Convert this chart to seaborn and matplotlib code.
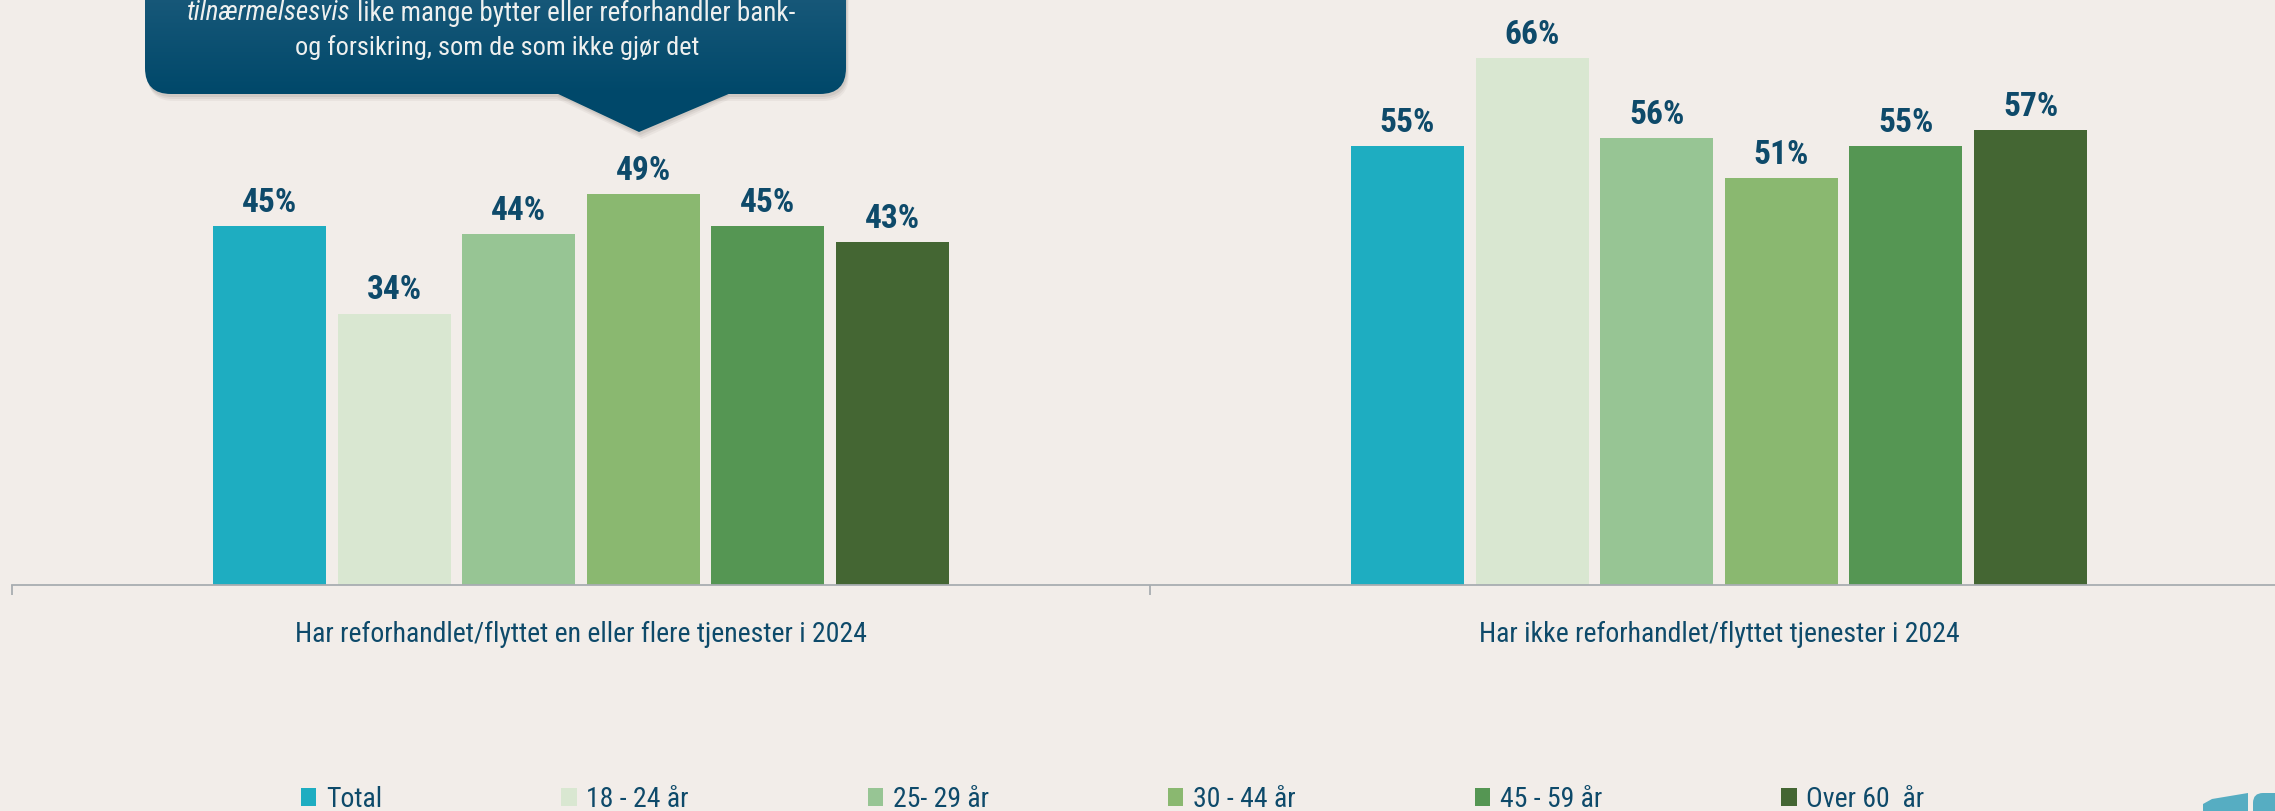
import numpy as np
import pandas as pd
import seaborn as sns
import matplotlib.pyplot as plt
from matplotlib import font_manager
from matplotlib.patches import FancyBboxPatch, Polygon
from matplotlib.colors import LinearSegmentedColormap

# data
categories = ["Har reforhandlet/flyttet en eller flere tjenester i 2024",
              "Har ikke reforhandlet/flyttet tjenester i 2024"]
groups = ["Total", "18 - 24 år", "25- 29 år", "30 - 44 år", "45 - 59 år", "Over 60  år"]
har_flyttet = [45, 34, 44, 49, 45, 43]
ikke_flyttet = [55, 66, 56, 51, 55, 57]
colors = ["#1eadc1", "#d9e7d1", "#97c594", "#8ab870", "#559653", "#446633"]

bg = "#f2ede9"
navy = "#0e4a6a"
grey = "#a8adb1"

df = pd.DataFrame({
    "kategori": [categories[0]] * len(groups) + [categories[1]] * len(groups),
    "gruppe": groups * 2,
    "andel": har_flyttet + ikke_flyttet,
})

# pick a condensed face if there is one
installed = {f.name for f in font_manager.fontManager.ttflist}
narrow = [f for f in ["Roboto Condensed", "Open Sans Condensed", "Noto Sans Condensed",
                      "Liberation Sans Narrow"] if f in installed]

sns.set_style("white")
plt.rcParams["font.family"] = narrow[:1] + ["Liberation Sans", "DejaVu Sans"]

W, H = 2275, 812
fig = plt.figure(figsize=(W / 100, H / 100), dpi=100, facecolor=bg)
ax = fig.add_axes([12 / W, (H - 586) / H, (W - 12) / W, 586 / H])
ax.set_facecolor(bg)

sns.barplot(data=df, x="kategori", y="andel", hue="gruppe", palette=colors,
            width=0.657, gap=0.093, saturation=1, linewidth=0, edgecolor="none", ax=ax)

ax.set_xlabel("")
ax.set_ylabel("")
ax.set_yticks([])
for s in ["top", "right", "left"]:
    ax.spines[s].set_visible(False)
ax.spines["bottom"].set_color(grey)
ax.spines["bottom"].set_linewidth(1.3)

ax.set_xticks([-0.5, 0.5], minor=True)
ax.tick_params(axis="x", which="major", bottom=False, length=0, pad=25, labelsize=20, labelcolor=navy)
ax.tick_params(axis="x", which="minor", bottom=True, length=7.5, width=1.3, color=grey, direction="out")
ax.set_xlim(-0.5, (W - 12) / 1138 - 0.5)
ax.set_ylim(0, 586 / 7.98)

for cont in ax.containers:
    ax.bar_label(cont, labels=[f"{v:.0f}%" for v in cont.datavalues], padding=6,
                 fontsize=24, fontweight="bold", color=navy)

handles, labels = ax.get_legend_handles_labels()
ax.get_legend().remove()
fig.legend(handles, labels, ncol=6, loc="center left", bbox_to_anchor=(301 / W, 1 - 800 / H),
           frameon=False, fontsize=20, labelcolor=navy, handlelength=0.55, handleheight=0.62,
           handletextpad=0.35, columnspacing=6.45, borderpad=0, borderaxespad=0)

# callout box overlay in pixel coords
ov = fig.add_axes([0, 0, 1, 1], zorder=5)
ov.set_xlim(0, W)
ov.set_ylim(H, 0)
ov.axis("off")

for off, a in [(7, 0.06), (5, 0.08), (3, 0.1)]:
    ov.add_patch(FancyBboxPatch((145 + off * 0.4, -80 + off), 701, 175,
                                boxstyle="round,pad=0,rounding_size=26",
                                fc="#5a5048", ec="none", alpha=a))
    ov.add_patch(Polygon([(557, 95 + off - 2), (730, 95 + off - 2), (639 + off * 0.4, 133 + off)],
                         fc="#5a5048", ec="none", alpha=a))

box = FancyBboxPatch((145, -80), 701, 175, boxstyle="round,pad=0,rounding_size=26",
                     fc="none", ec="none")
ov.add_patch(box)
grad = np.linspace(0, 1, 256).reshape(-1, 1)
cmap = LinearSegmentedColormap.from_list("callout", ["#2a6585", "#00486a"])
img = ov.imshow(grad, extent=(145, 846, 95, -80), cmap=cmap, aspect="auto", zorder=2)
img.set_clip_path(box)
ov.add_patch(Polygon([(556, 94), (731, 94), (639, 133)], fc="#00486a", ec="none", zorder=3))

txt_c = "#eef0ef"
ov.text(350, 13, "tilnærmelsesvis", ha="right", va="center", fontsize=19.5, style="italic",
        color=txt_c, zorder=4)
ov.text(357, 13, "like mange bytter eller reforhandler bank-", ha="left", va="center",
        fontsize=19.5, color=txt_c, zorder=4)
ov.text(497, 48, "og forsikring, som de som ikke gjør det", ha="center", va="center",
        fontsize=19, color=txt_c, zorder=4)

# logo fragment bottom right
logo = "#56adc2"
ov.add_patch(Polygon([(2203, 812), (2203, 805), (2212, 800), (2248, 794), (2248, 812)],
                     fc=logo, ec="none"))
ov.add_patch(FancyBboxPatch((2253, 794), 40, 40, boxstyle="round,pad=0,rounding_size=10",
                            fc=logo, ec="none"))

fig.savefig("out.png", dpi=100, facecolor=bg)
